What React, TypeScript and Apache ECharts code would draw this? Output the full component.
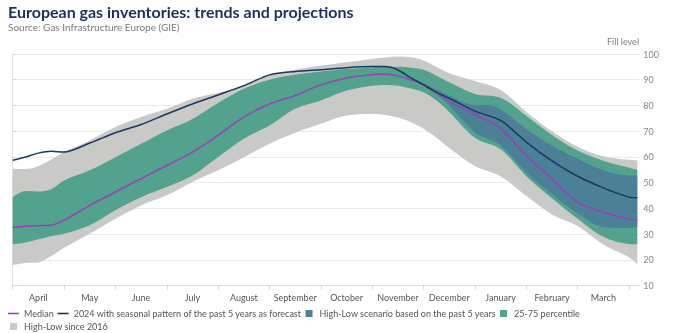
import React, { useEffect, useRef } from "react";
import * as echarts from "echarts";

const monthNames = ["April", "May", "June", "July", "August", "September", "October", "November", "December", "January", "February", "March"];

// x positions in months since 1 April
const months = [0, 0.25, 0.5, 0.75, 1, 1.5, 2, 2.5, 3, 3.5, 4, 4.5, 5, 5.5, 6, 6.5, 7, 7.25, 7.5, 7.75, 8, 8.25, 8.5, 9, 9.5, 10, 10.5, 11, 11.5, 12, 12.16];

const grayHigh = [55.4, 55.3, 56.5, 59.0, 61.9, 66.4, 71.6, 75.5, 78.7, 82.6, 84.9, 88.0, 91.9, 93.9, 95.5, 96.8, 98.1, 98.6, 99.0, 98.7, 97.5, 95.0, 92.5, 89.5, 86.0, 77.5, 70.0, 64.0, 60.3, 58.9, 58.7];
const grayLow = [18.0, 18.8, 19.0, 21.5, 24.7, 30.2, 36.0, 41.2, 45.1, 50.3, 54.8, 59.9, 65.1, 69.4, 72.9, 76.1, 76.7, 76.3, 75.3, 73.5, 71.0, 67.5, 63.5, 56.5, 52.5, 44.8, 37.7, 33.2, 26.0, 21.0, 18.5];

const greenHigh = [44.4, 46.8, 46.6, 47.5, 50.9, 54.8, 59.9, 65.1, 70.3, 74.8, 81.0, 86.5, 90.0, 91.9, 93.2, 94.2, 94.8, 95.0, 95.0, 94.7, 93.9, 91.6, 89.0, 84.5, 83.0, 76.0, 68.5, 62.5, 58.5, 55.8, 55.0];
const greenLow = [26.1, 26.8, 28.0, 29.3, 30.2, 33.5, 39.3, 44.4, 48.3, 52.8, 60.0, 67.1, 72.2, 78.7, 81.9, 85.8, 87.7, 88.0, 87.7, 86.6, 85.1, 81.9, 77.5, 67.5, 63.0, 52.5, 44.0, 36.0, 29.0, 26.2, 26.1];

const median = [32.6, 33.1, 33.3, 33.5, 35.4, 41.2, 46.4, 51.6, 56.7, 61.9, 68.5, 75.5, 80.6, 83.9, 88.0, 90.7, 92.0, 92.2, 91.5, 90.0, 88.4, 85.1, 81.5, 76.5, 71.0, 60.5, 51.5, 42.5, 38.5, 35.8, 35.4];
const y2024 = [58.7, 60.0, 61.5, 62.2, 61.9, 65.4, 69.4, 72.6, 76.7, 80.6, 84.1, 87.7, 91.9, 93.2, 93.9, 94.7, 95.1, 95.1, 93.8, 90.8, 88.0, 85.1, 82.8, 77.8, 74.2, 65.8, 58.5, 52.5, 48.0, 44.4, 44.2];

const blueMonths = [8, 8.25, 8.5, 9, 9.25, 9.5, 10, 10.5, 11, 11.5, 12, 12.16];
const blueHigh = [88.0, 86.3, 83.8, 80.2, 80.2, 78.5, 70.9, 64.5, 59.3, 54.8, 52.8, 52.8];
const blueLow = [88.0, 84.5, 80.0, 69.5, 67.0, 64.5, 54.0, 45.5, 38.0, 32.8, 32.4, 32.8];

const monthTicks = [0, 1, 2, 3, 4, 5, 6, 7, 8, 9, 10, 11, 12];
const monthLabelPos = [0.5, 1.5, 2.5, 3.5, 4.5, 5.5, 6.5, 7.5, 8.5, 9.5, 10.5, 11.5];

const NAMES = {
  median: "Median",
  y2024: "2024 with seasonal pattern of the past 5 years as forecast",
  blue: "High-Low scenario based on the past 5 years",
  green: "25-75 percentile",
  gray: "High-Low since 2016",
};

const C = {
  gray: "#c9cac7",
  green: "#53a28d",
  blue: "#4c8097",
  purple: "#9b40b6",
  navy: "#1d365f",
};

const FONT = "Lato, 'Open Sans', sans-serif";
const LINE_ICON = "path://M0,0H11V1.6H0Z";
const SQ_ICON = "path://M0,0H7V7H0Z";

// Bands: stacked line pairs. Data given as [value, month] with encode so the
// value dimension is the stacked one.
function band(name: string, xs: number[], lo: number[], hi: number[], color: string, stack: string, z: number) {
  const common = {
    type: "line",
    stack,
    symbol: "none",
    smooth: 0.35,
    encode: { x: 1, y: 0 },
    lineStyle: { width: 0, opacity: 0 },
    silent: true,
    z,
  };
  const base = { ...common, name: stack + "-base", data: xs.map((x, i) => [lo[i], x]) };
  const top = {
    ...common,
    name,
    data: xs.map((x, i) => [hi[i] - lo[i], x]),
    itemStyle: { color },
    areaStyle: { color, opacity: 1 },
  };
  return [base, top];
}

export default function App() {
  const ref = useRef<HTMLDivElement>(null);
  useEffect(() => {
    if (!ref.current) return;
    const chart = echarts.init(ref.current, null, { renderer: "svg" });
    const option = {
      animation: false,
      textStyle: { fontFamily: FONT },
      title: {
        text: "European gas inventories: trends and projections",
        subtext: "Source: Gas Infrastructure Europe (GIE)",
        left: 8,
        top: 3,
        itemGap: 3,
        padding: 0,
        textStyle: { fontSize: 16, fontWeight: "bold", color: "#1c2f5c", fontFamily: FONT },
        subtextStyle: { fontSize: 10, color: "#7a7a7a", fontFamily: FONT },
      },
      graphic: [
        {
          type: "text",
          right: 40,
          top: 37,
          style: { text: "Fill level", fill: "#808080", fontSize: 9, fontFamily: FONT },
        },
      ],
      grid: { left: 12.7, right: 39.7, top: 54, bottom: 47.3 },
      xAxis: {
        type: "value",
        min: 0,
        max: 12.2,
        splitLine: { show: false },
        axisLine: { show: true, lineStyle: { color: "#dedede" } },
        axisTick: { show: true, customValues: monthTicks, length: 4, lineStyle: { color: "#d6d6d6" } },
        axisLabel: {
          customValues: monthLabelPos,
          formatter: (v: number) => monthNames[Math.floor(v)] || "",
          color: "#555",
          fontSize: 9,
          margin: 7,
          fontFamily: FONT,
        },
      },
      yAxis: {
        type: "value",
        position: "right",
        min: 10,
        max: 100,
        interval: 10,
        axisLine: { show: true, lineStyle: { color: "#e2e2e2" } },
        axisTick: { show: true, length: 4, lineStyle: { color: "#d6d6d6" } },
        axisLabel: { color: "#888", fontSize: 9, margin: 4, fontFamily: FONT },
        splitLine: { show: true, lineStyle: { color: "#ebebeb", width: 1 } },
      },
      legend: {
        left: 8,
        top: 309,
        width: 590,
        padding: 0,
        itemWidth: 11,
        itemHeight: 7,
        itemGap: 4,
        textStyle: { fontSize: 9, color: "#555", lineHeight: 9, fontFamily: FONT },
        data: [
          { name: NAMES.median, icon: LINE_ICON },
          { name: NAMES.y2024, icon: LINE_ICON },
          { name: NAMES.blue, icon: SQ_ICON },
          { name: NAMES.green, icon: SQ_ICON },
          { name: NAMES.gray, icon: SQ_ICON },
        ],
      },
      series: [
        ...band(NAMES.gray, months, grayLow, grayHigh, C.gray, "gray", 1),
        ...band(NAMES.green, months, greenLow, greenHigh, C.green, "green", 2),
        ...band(NAMES.blue, blueMonths, blueLow, blueHigh, C.blue, "blue", 3),
        {
          type: "line",
          name: NAMES.median,
          data: months.map((x, i) => [x, median[i]]),
          symbol: "none",
          smooth: 0.35,
          lineStyle: { color: C.purple, width: 1.5 },
          itemStyle: { color: C.purple },
          z: 5,
        },
        {
          type: "line",
          name: NAMES.y2024,
          data: months.map((x, i) => [x, y2024[i]]),
          symbol: "none",
          smooth: 0.25,
          lineStyle: { color: C.navy, width: 1.5 },
          itemStyle: { color: C.navy },
          z: 6,
        },
      ],
    };
    chart.setOption(option as any);
    return () => chart.dispose();
  }, []);
  return <div ref={ref} style={{ position: "fixed", left: 0, top: 0, width: 679, height: 333 }} />;
}
